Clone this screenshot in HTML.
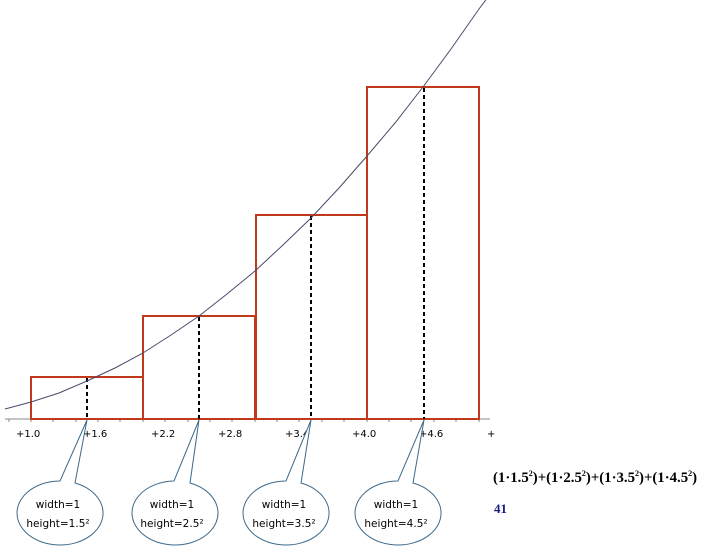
<!DOCTYPE html>
<html><head><meta charset="utf-8"><style>
html,body{margin:0;padding:0;background:#fff;width:701px;height:555px;overflow:hidden}
svg{display:block}
.t{font-family:"DejaVu Sans","Liberation Sans",sans-serif;font-size:10px;fill:#000}
.b{font-family:"DejaVu Sans","Liberation Sans",sans-serif;font-size:10.5px;fill:#000}
.f{font-family:"Liberation Serif",serif;font-weight:bold;font-size:14.8px;fill:#000}
</style></head><body>
<svg width="701" height="555" viewBox="0 0 701 555">
<g stroke="#888" stroke-width="1">
<line x1="5" y1="419" x2="490" y2="419"/>
<g stroke-width="1">
<line x1="9" y1="419" x2="9" y2="422"/><line x1="31" y1="419" x2="31" y2="422"/><line x1="53" y1="419" x2="53" y2="422"/><line x1="76" y1="419" x2="76" y2="422"/><line x1="98" y1="419" x2="98" y2="422"/><line x1="120" y1="419" x2="120" y2="422"/><line x1="143" y1="419" x2="143" y2="422"/><line x1="165" y1="419" x2="165" y2="422"/><line x1="188" y1="419" x2="188" y2="422"/><line x1="210" y1="419" x2="210" y2="422"/><line x1="232" y1="419" x2="232" y2="422"/><line x1="255" y1="419" x2="255" y2="422"/><line x1="277" y1="419" x2="277" y2="422"/><line x1="299" y1="419" x2="299" y2="422"/><line x1="322" y1="419" x2="322" y2="422"/><line x1="344" y1="419" x2="344" y2="422"/><line x1="367" y1="419" x2="367" y2="422"/><line x1="389" y1="419" x2="389" y2="422"/><line x1="411" y1="419" x2="411" y2="422"/><line x1="434" y1="419" x2="434" y2="422"/><line x1="456" y1="419" x2="456" y2="422"/><line x1="479" y1="419" x2="479" y2="422"/>
</g></g>
<g fill="none" stroke="#c0391b" stroke-width="2">
<rect x="31" y="377" width="112" height="42"/>
<rect x="143" y="316" width="112" height="103"/>
<rect x="256" y="215" width="111" height="204"/>
<rect x="367" y="87" width="112" height="332"/>
</g>
<g stroke="#000" stroke-width="2" stroke-dasharray="4,3">
<line x1="87" y1="378" x2="87" y2="419"/>
<line x1="199" y1="317" x2="199" y2="419"/>
<line x1="311" y1="216" x2="311" y2="419"/>
<line x1="424" y1="88" x2="424" y2="419"/>
</g>
<polyline fill="none" stroke="#4a4a6a" stroke-width="1" points="5,409 31,402 59,393 87,381 115,368 143,353 171,335 199,316 227,294 255,271 283,245 311,218 339,188 367,156 395,123 423,87 451,49 479,9 488,-3"/>
<g class="t">
<text x="16" y="437">+1.0</text><text x="83" y="437">+1.6</text><text x="151" y="437">+2.2</text><text x="218" y="437">+2.8</text><text x="285" y="437">+3.4</text><text x="352" y="437">+4.0</text><text x="419" y="437">+4.6</text><text x="487" y="437">+</text>
</g>
<g fill="#fff" stroke="#3d6a8a" stroke-width="1">
<path d="M87,420 L60,481 A43,32 0 1 0 75,483 Z"/>
<path d="M199,420 L174,481 A43,32 0 1 0 190,483 Z"/>
<path d="M311,420 L286,481 A43,32 0 1 0 301,483 Z"/>
<path d="M424,420 L398,481 A43,32 0 1 0 413,483 Z"/>
</g>
<g class="b" text-anchor="middle">
<text x="58" y="508">width=1</text><text x="58" y="527">height=1.5²</text>
<text x="172" y="508">width=1</text><text x="172" y="527">height=2.5²</text>
<text x="284" y="508">width=1</text><text x="284" y="527">height=3.5²</text>
<text x="396" y="508">width=1</text><text x="396" y="527">height=4.5²</text>
</g>
<text class="f" x="493" y="482">(1·1.5<tspan font-size="8" dy="-6">2</tspan><tspan dy="6">)+(1·2.5</tspan><tspan font-size="8" dy="-6">2</tspan><tspan dy="6">)+(1·3.5</tspan><tspan font-size="8" dy="-6">2</tspan><tspan dy="6">)+(1·4.5</tspan><tspan font-size="8" dy="-6">2</tspan><tspan dy="6">)</tspan></text>
<text class="f" x="494" y="513" style="fill:#1a1a80;font-size:13px">41</text>
</svg>
</body></html>
